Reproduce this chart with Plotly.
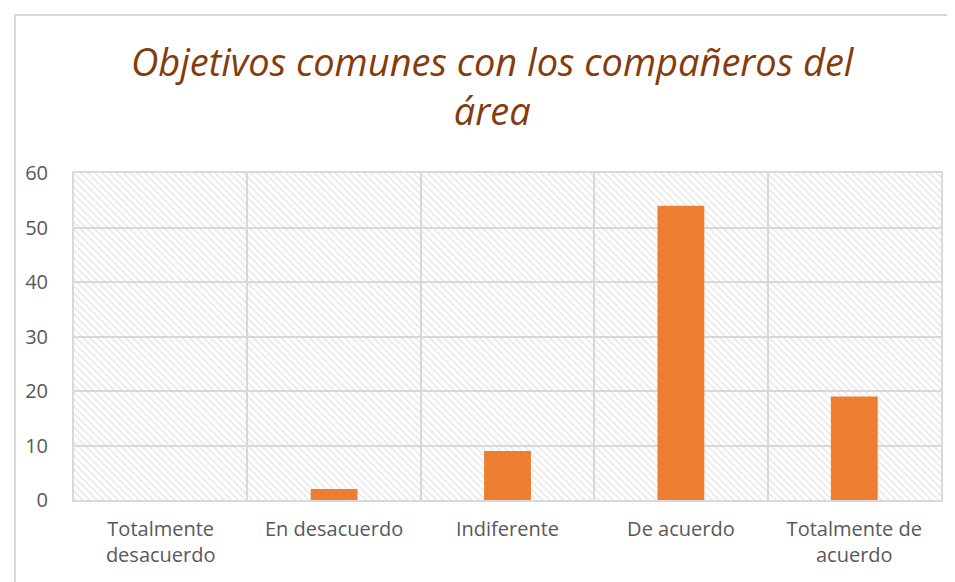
import plotly.graph_objects as go

# Chart data
categories = ["Totalmente<br>desacuerdo", "En desacuerdo", "Indiferente",
              "De acuerdo", "Totalmente de<br>acuerdo"]
responses = [0, 2, 9, 54, 19]
y_ticks = [0, 10, 20, 30, 40, 50, 60]
y_max = 60

title_text = "Objetivos comunes con los compañeros del<br>área"

fig = go.Figure()

# Hatched plot-area background (one full-height band per category)
fig.add_trace(go.Bar(
    x=categories,
    y=[y_max] * len(categories),
    width=1,
    marker=dict(
        color="rgba(0,0,0,0)",
        line=dict(width=0),
        pattern=dict(shape="\\", size=5, solidity=0.35,
                     fgcolor="#d4d4d4", bgcolor="rgba(0,0,0,0)"),
    ),
    hoverinfo="skip",
    showlegend=False,
))

fig.add_trace(go.Bar(
    x=categories,
    y=responses,
    width=0.27,
    marker=dict(color="#ED7D31", line=dict(width=0)),
    showlegend=False,
))

fig.update_layout(
    width=955,
    height=582,
    margin=dict(l=66, r=22, t=165, b=90),
    paper_bgcolor="white",
    plot_bgcolor="white",
    barmode="overlay",
    title=dict(
        text=title_text,
        x=0.507,
        xanchor="center",
        y=0.883,
        yanchor="top",
        font=dict(family="Open Sans", size=38, color="#843C0C", style="italic"),
    ),
    font=dict(family="Open Sans", size=20, color="#595959"),
    hovermode=False,
)

fig.update_xaxes(
    type="category",
    tickson="boundaries",
    showgrid=True,
    gridcolor="#d9d9d9",
    gridwidth=1.5,
    showline=True,
    linecolor="#d9d9d9",
    linewidth=2,
    mirror=True,
    ticks="",
    ticklabelstandoff=10,
    tickfont=dict(size=20, color="#595959"),
)

fig.update_yaxes(
    range=[0, y_max],
    tickvals=y_ticks,
    showgrid=True,
    gridcolor="#d9d9d9",
    gridwidth=1.5,
    showline=True,
    linecolor="#d9d9d9",
    linewidth=2,
    mirror=True,
    zeroline=False,
    ticks="",
    ticklabelstandoff=20,
    tickfont=dict(size=20, color="#595959"),
)

# Outer chart border
fig.add_shape(
    type="rect", xref="paper", yref="paper",
    x0=-0.068, x1=1.0138, y0=-0.3, y1=1.483,
    line=dict(color="#d9d9d9", width=2),
    layer="below",
)

fig.write_html("out.html")
